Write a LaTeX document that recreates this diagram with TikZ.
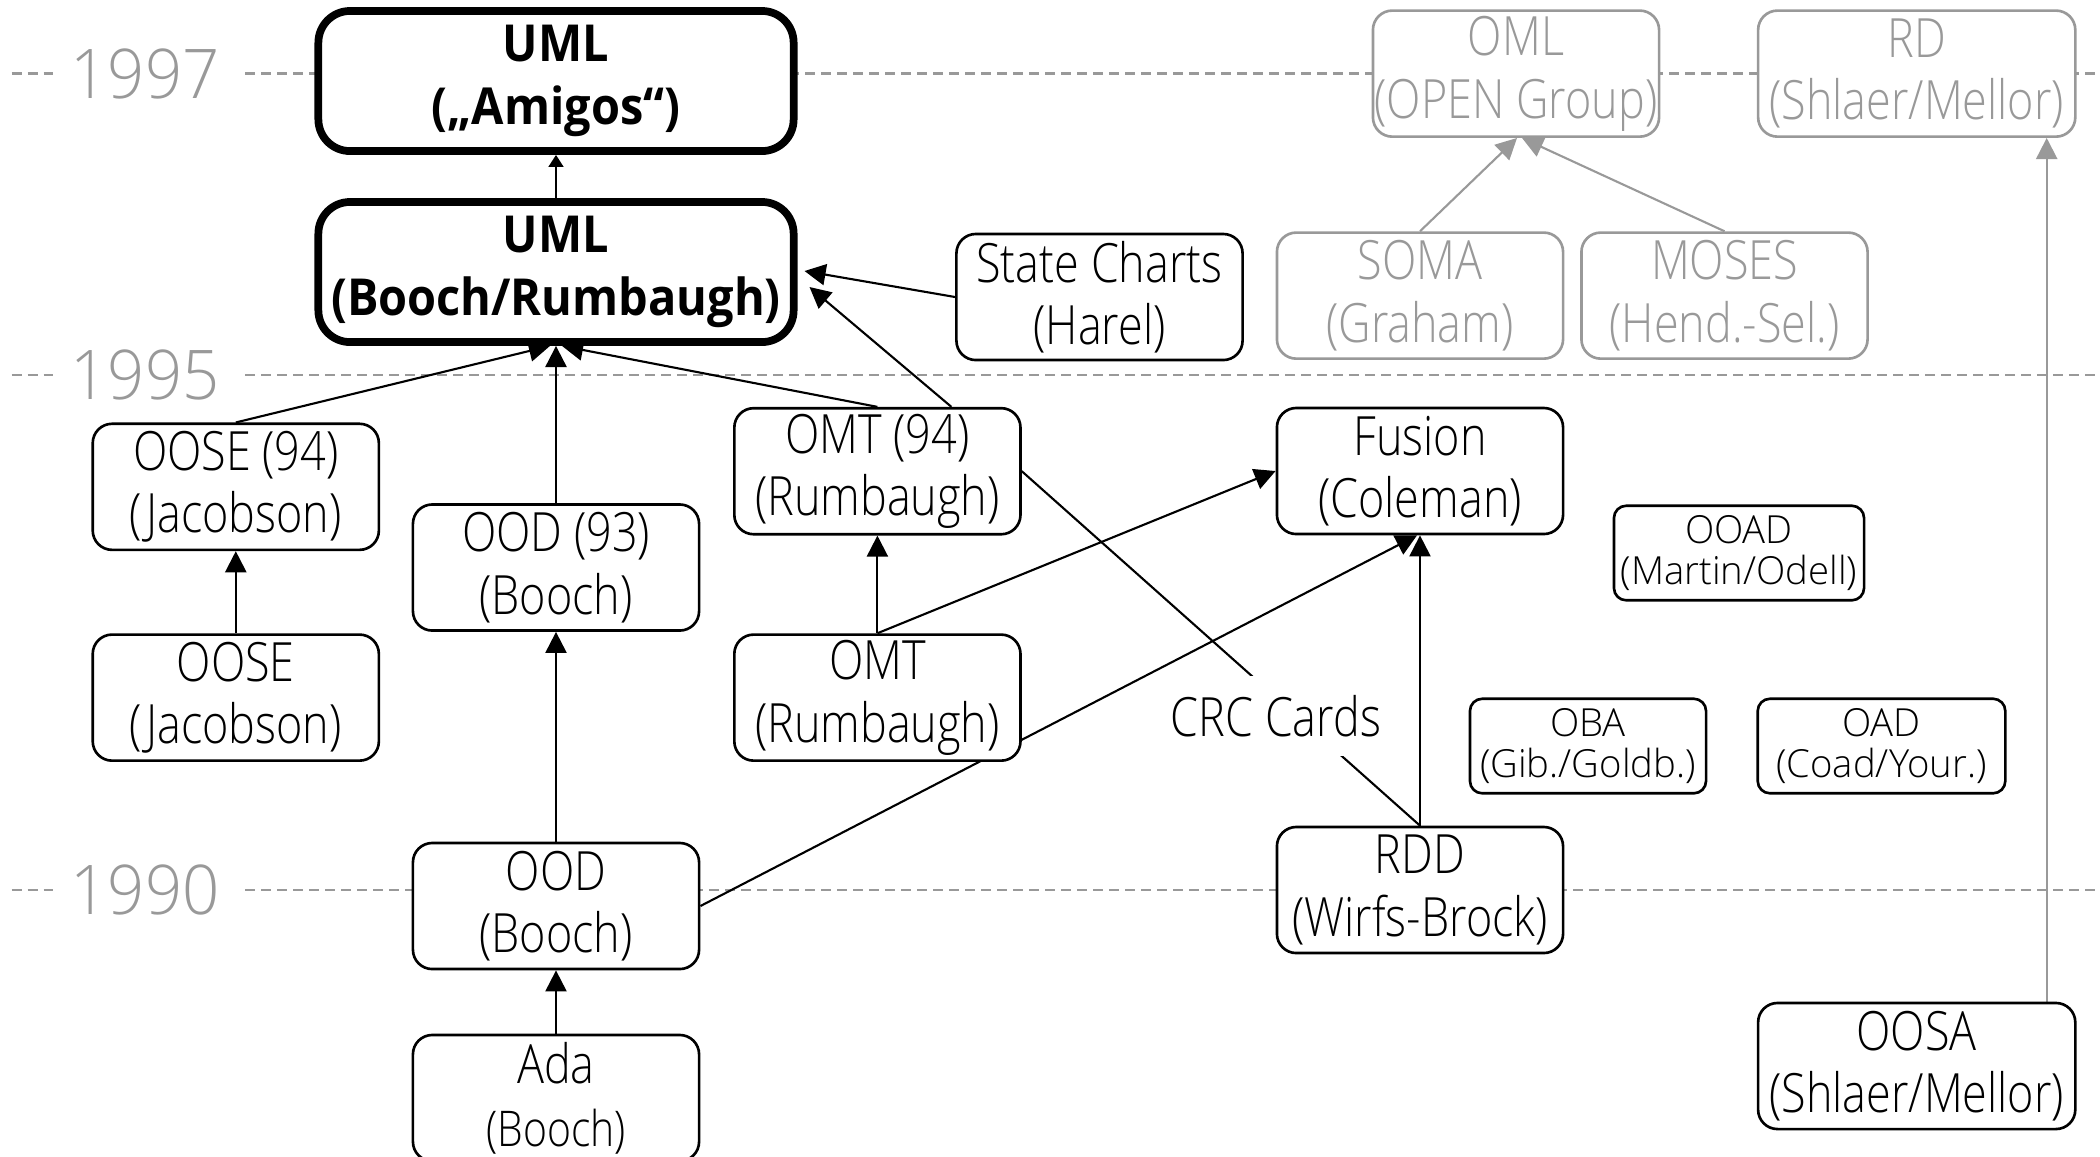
\documentclass[tikz,border=0pt]{standalone}
\usepackage{fontspec}
\setmainfont{Open Sans}[UprightFont=* Light, BoldFont=* Bold, FakeStretch=0.83]
\newfontfamily\umlfont{Open Sans}[UprightFont=* Bold, FakeStretch=0.92]
\newfontfamily\smallfont{Open Sans}[UprightFont=* Light, FakeStretch=0.99]
\newfontfamily\yearfont{Open Sans}[UprightFont=* Light, FakeStretch=0.95]
\usetikzlibrary{arrows.meta,calc}
\definecolor{tlgray}{HTML}{999999}
\newcommand\mainsize{\fontsize{15.4}{17.8}\selectfont}
\newcommand\umlsize{\umlfont\fontsize{14.5}{17.8}\selectfont}
\newcommand\smallsize{\smallfont\fontsize{11}{11.9}\selectfont}
\newcommand\yearsize{\yearfont\fontsize{19.5}{20}\selectfont}
\pgfdeclarelayer{lines}
\pgfdeclarelayer{edges}
\pgfsetlayers{lines,edges,main}
\tikzset{
  method/.style={draw, fill=white, rounded corners=5.5pt, line width=0.75pt,
    align=center, inner sep=0pt, minimum width=2.86cm, minimum height=1.26cm,
    font=\mainsize},
  widemethod/.style={method, minimum width=3.17cm},
  smallmethod/.style={method, rounded corners=3.5pt, minimum height=0.945cm,
    font=\smallsize},
  umlbox/.style={method, line width=2.2pt, rounded corners=9pt,
    minimum width=4.75cm, minimum height=1.40cm, font=\umlsize},
  faded/.style={draw=tlgray, text=tlgray},
  link/.style={line width=0.6pt, -{Triangle[length=6pt,width=6pt]}},
  smalllink/.style={line width=0.6pt, -{Triangle[length=3.4pt,width=4.2pt]}},
  fadedlink/.style={link, draw=tlgray, color=tlgray},
  yearline/.style={draw=tlgray, line width=0.65pt, dash pattern=on 2.85pt off 1.7pt},
  yearlabel/.style={text=tlgray, inner sep=0pt, font=\yearsize},
  plainlabel/.style={fill=white, inner sep=0pt, minimum height=0.795cm, font=\mainsize}
}
\begin{document}
\begin{tikzpicture}[x=0.01cm, y=-0.01cm]
\useasboundingbox (0,0) rectangle (2100,1156);

% year labels and their dashed rulers
\node[yearlabel] (y97) at (145,73.5) {1997};
\node[yearlabel] (y95) at (145,375) {1995};
\node[yearlabel] (y90) at (145,890) {1990};
\begin{pgfonlayer}{lines}
  \foreach \yy in {73.5,375,890} {
    \draw[yearline] (11.7,\yy) -- (53,\yy);
    \draw[yearline] (245,\yy) -- (2100,\yy);
  }
\end{pgfonlayer}

% unified notation
\node[umlbox] (amigos) at (556,81) {UML\\(„Amigos“)};
\node[umlbox] (br) at (556,272) {UML\\(Booch/Rumbaugh)};

% methods
\node[method] (sc) at (1099.5,297) {State Charts\\(Harel)};
\node[method] (oose94) at (235.8,486.8) {OOSE (94)\\(Jacobson)};
\node[method] (ood93) at (556,567.5) {OOD (93)\\(Booch)};
\node[method] (omt94) at (877.4,471.2) {OMT (94)\\(Rumbaugh)};
\node[method] (oose) at (235.8,697.6) {OOSE\\(Jacobson)};
\node[method] (omt) at (877.4,697.6) {OMT\\(Rumbaugh)};
\node[method] (ood90) at (556,906) {OOD\\(Booch)};
\node[method] (ada) at (556,1098) {Ada\\{\fontsize{14}{16}\selectfont(Booch)}};
\node[method] (fusion) at (1420,471) {Fusion\\(Coleman)};
\node[method] (rdd) at (1420,890) {RDD\\(Wirfs-Brock)};
\node[widemethod] (oosa) at (1916.7,1066) {OOSA\\(Shlaer/Mellor)};
\node[smallmethod, minimum width=2.50cm] (ooad) at (1739,553) {OOAD\\(Martin/Odell)};
\node[smallmethod, minimum width=2.36cm] (oba) at (1588,746) {OBA\\(Gib./Goldb.)};
\node[smallmethod, minimum width=2.475cm] (oad) at (1881.5,746) {OAD\\(Coad/Your.)};
\node[plainlabel] (crc) at (1276,716) {CRC Cards};

% faded methods
\node[method, faded] (oml) at (1516,73.6) {OML\\(OPEN Group)};
\node[widemethod, faded] (rd) at (1916.7,73.6) {RD\\(Shlaer/Mellor)};
\node[method, faded] (soma) at (1420,295.6) {SOMA\\(Graham)};
\node[method, faded] (moses) at (1724.5,295.6) {MOSES\\(Hend.-Sel.)};

% influences
\begin{pgfonlayer}{edges}
  \draw[smalllink] (br.north) -- (amigos.south);
  \draw[link] (oose94.north) -- ($(br.south)+(-6,0)$);
  \draw[link] (ood93.north) -- (br.south);
  \draw[link] (omt94.north) -- ($(br.south)+(6,0)$);
  \draw[link] ($(omt94.north)+(74,0)$) -- ($(br.east)+(12,15)$);
  \draw[link] (sc.west) -- ($(br.east)+(7,-1)$);
  \draw[link] (oose.north) -- (oose94.south);
  \draw[link] (ood90.north) -- (ood93.south);
  \draw[link] (ada.north) -- (ood90.south);
  \draw[link] (omt.north) -- (omt94.south);
  \draw[link] (omt.north) -- (fusion.west);
  \draw[link] (ood90.east) -- ($(fusion.south)+(-3,0)$);
  \draw[link] (rdd.north) -- (fusion.south);
  \draw[line width=0.6pt] (omt94.east) -- (rdd.north);
  \draw[fadedlink] (soma.north) -- ($(oml.south)+(1,0)$);
  \draw[fadedlink] (moses.north) -- ($(oml.south)+(6,0)$);
  \draw[fadedlink] ($(oosa.north)+(130,0)$) -- ($(rd.south)+(130,0)$);
\end{pgfonlayer}
\end{tikzpicture}
\end{document}
